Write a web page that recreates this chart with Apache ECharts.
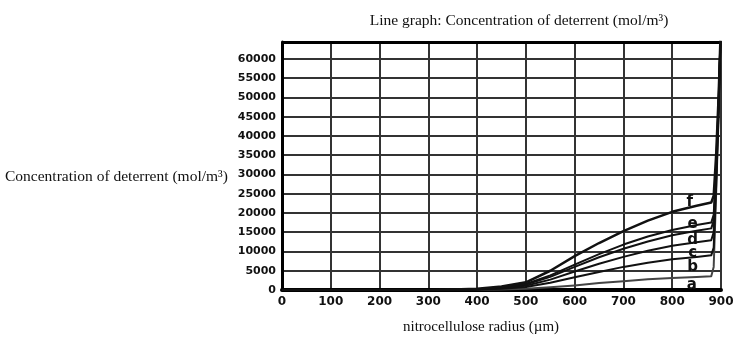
<!DOCTYPE html>
<html>
<head>
<meta charset="utf-8">
<script src="https://cdn.jsdelivr.net/npm/echarts@6/dist/echarts.min.js"></script>
<style>html,body{margin:0;padding:0;background:#fff}#c{width:738px;height:349px}</style>
</head>
<body>
<div id="c"></div>
<script>
var radius = [0, 100, 200, 300, 350, 400, 450, 500, 550, 600, 650, 700, 750, 800, 850, 880, 885, 890, 895, 900];
var curveA = [0, 0, 0, 0, 0, 50, 100, 300, 700, 1200, 1800, 2300, 2800, 3100, 3400, 3600, 6000, 25000, 45000, 70000];
var curveB = [0, 0, 0, 0, 30, 100, 300, 800, 1900, 3300, 4700, 6000, 7100, 8000, 8600, 9000, 11000, 27000, 46000, 70000];
var curveC = [0, 0, 0, 0, 40, 150, 500, 1100, 2700, 4800, 6800, 8600, 10200, 11500, 12400, 12900, 15000, 29000, 47000, 70000];
var curveD = [0, 0, 0, 0, 50, 200, 600, 1400, 3400, 6000, 8500, 10700, 12600, 14200, 15400, 16000, 18000, 31000, 48000, 70000];
var curveE = [0, 0, 0, 0, 60, 200, 700, 1600, 3800, 6600, 9300, 11800, 13900, 15600, 16900, 17500, 19500, 32000, 49000, 70000];
var curveF = [0, 0, 0, 20, 100, 300, 900, 2000, 5000, 8800, 12200, 15300, 18000, 20300, 21900, 22700, 24500, 35000, 50000, 70000];
var curveNames = ['a', 'b', 'c', 'd', 'e', 'f'];
var curves = [curveA, curveB, curveC, curveD, curveE, curveF];
var labelAt = [[840, 1200], [842, 6000], [842, 9700], [842, 13000], [842, 17000], [836, 22900]];
var xTicks = [0, 100, 200, 300, 400, 500, 600, 700, 800, 900];
var yTicks = [0, 5000, 10000, 15000, 20000, 25000, 30000, 35000, 40000, 45000, 50000, 55000, 60000];

var serif = '"Liberation Serif","Times New Roman",serif';
var sans = '"DejaVu Sans",sans-serif';

var series = curves.map(function (c, i) {
  return {
    type: 'line',
    name: curveNames[i],
    data: radius.map(function (r, j) { return [r, c[j]]; }),
    symbol: 'none',
    smooth: false,
    clip: true,
    lineStyle: { color: i === 0 ? '#444' : '#111', width: i === 5 ? 2.5 : 2, join: 'round' },
    z: 5,
    markPoint: {
      symbol: 'circle', symbolSize: 0,
      data: [{ coord: labelAt[i] }],
      label: { show: true, formatter: curveNames[i], color: '#111', fontFamily: sans, fontWeight: 'bold', fontSize: 15, position: 'inside' }
    }
  };
});

var chart = echarts.init(document.getElementById('c'));
chart.setOption({
  animation: false,
  backgroundColor: '#fff',
  grid: { left: 282, right: 17, top: 42, bottom: 59 },
  title: {
    text: 'Line graph: Concentration of deterrent (mol/m³)',
    left: 514, top: 8, textAlign: 'center',
    textStyle: { fontFamily: serif, fontSize: 15.5, fontWeight: 'normal', color: '#111' }
  },
  graphic: [{
    type: 'text', left: 5, top: 169,
    style: { text: 'Concentration of deterrent (mol/m³)', font: '15.5px ' + serif, fill: '#111' }
  }, {
    type: 'text', left: 403, top: 320,
    style: { text: 'nitrocellulose radius (µm)', font: '15px ' + serif, fill: '#111' }
  }],
  xAxis: {
    type: 'value', min: 0, max: 900, interval: 100,
    axisLine: { show: true, onZero: false, lineStyle: { color: '#000', width: 4 } },
    axisTick: { show: false },
    axisLabel: { fontFamily: sans, fontWeight: 'bold', fontSize: 12, color: '#111', margin: 6 },
    splitLine: { show: true, lineStyle: { color: '#333', width: 2 } }
  },
  yAxis: {
    type: 'value', min: 0, max: 64400, interval: 5000,
    axisLine: { show: true, lineStyle: { color: '#000', width: 3 } },
    axisTick: { show: false },
    axisLabel: {
      fontFamily: sans, fontWeight: 'bold', fontSize: 11, color: '#111', margin: 6,
      formatter: function (v) { return yTicks.indexOf(v) >= 0 ? String(v) : ''; }
    },
    splitLine: { show: true, lineStyle: { color: '#333', width: 2 } }
  },
  series: series.concat([{
    type: 'line', data: [], silent: true,
    markLine: {
      symbol: 'none', silent: true, label: { show: false },
      lineStyle: { color: '#000', width: 3, type: 'solid' },
      data: [{ yAxis: 64400 }]
    }
  }])
});
</script>
</body>
</html>
